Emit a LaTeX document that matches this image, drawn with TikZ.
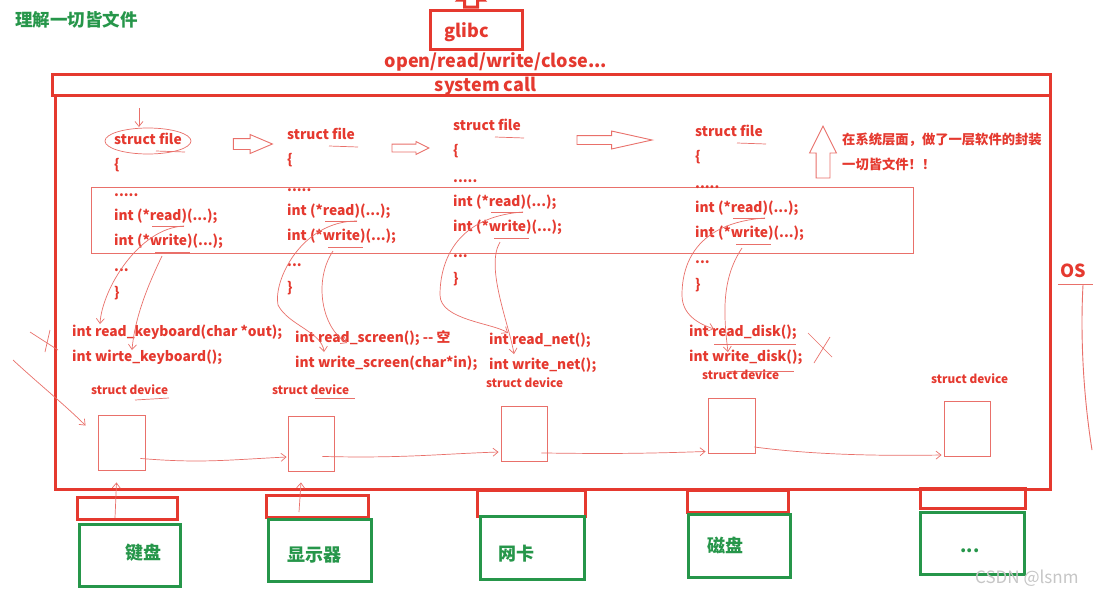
\documentclass[tikz,border=0pt]{standalone}
\usepackage{fontspec}
\setmainfont{Noto Sans CJK SC}
\usetikzlibrary{arrows.meta,shapes.arrows}

\definecolor{inkred}{RGB}{229,57,47}
\definecolor{penred}{RGB}{233,112,106}
\definecolor{inkgreen}{RGB}{38,150,74}

\tikzset{
  code/.style={anchor=west, inner sep=0pt, text height=9pt, text depth=3pt, text=inkred, font=\fontsize{13.8}{16}\selectfont\bfseries},
  small/.style={code, font=\fontsize{11.8}{14}\selectfont\bfseries},
  note/.style={code, font=\fontsize{13.3}{16}\selectfont\bfseries},
  big/.style={inner sep=0pt, text=inkred, font=\fontsize{18}{21}\selectfont\bfseries},
  port/.style={draw=inkred, line width=3pt, inner sep=0pt},
  hw/.style={draw=inkgreen, line width=3pt, inner sep=0pt},
  hwtxt/.style={inner sep=0pt, text=inkgreen, font=\fontsize{18}{21}\selectfont\bfseries},
  devbox/.style={draw=penred, line width=0.9pt, minimum width=46pt, minimum height=55pt, inner sep=0pt},
  pen/.style={draw=penred, line width=0.7pt},
  penarrow/.style={pen, -{Straight Barb[length=5pt, width=8pt]}},
  hollow/.style={single arrow, draw=penred, fill=white, line width=0.9pt, single arrow head indent=0pt}
}

\begin{document}
\begin{tikzpicture}[x=1pt, y=-1pt]
  \useasboundingbox (0,0) rectangle (1096,595);
  \fill[white] (0,0) rectangle (1096,595);

  % title
  \node[anchor=west, inner sep=0pt, text=inkgreen, font=\fontsize{17.5}{20}\selectfont\bfseries] (title) at (15,20) {理解一切皆文件};

  % glibc and system call
  \node[single arrow, draw=inkred, line width=3pt, inner sep=5pt, minimum height=19pt,
        single arrow head extend=6pt, shape border rotate=90] (up) at (471,0.5) {};
  \node[port, minimum width=92pt, minimum height=39pt] (glibc) at (476,29.5) {};
  \node[big] (glibctxt) at (466.5,32) {glibc};
  \node[big] (api) at (496,62) {open/read/write/close...};
  \draw[port] (52,74) rectangle (1050,95);
  \draw[port] (55,95) rectangle (1050,489);
  \node[big] (syscall) at (485.5,86) {system call};

  % OS
  \node[big, anchor=west] (os) at (1060,271) {OS};
  \draw[pen, line width=0.9pt] (1058,284) -- (1093,284);
  \draw[pen, line width=0.9pt] (1083,285) .. controls (1080,340) and (1084,400) .. (1092,450);

  % struct file columns
  \draw[pen, line width=0.9pt] (91,187) rectangle (913,253);
  \foreach \cx/\cy/\id in {114/141/A, 287/136/B, 453/127/C, 695/133/D}{
    \node[code] (file\id) at (\cx,\cy) {struct file};
    \node[code] (open\id) at (\cx,\cy+25) {\{};
    \node[code] (dots\id) at (\cx,\cy+52) {.....};
    \node[code] (read\id) at (\cx,\cy+76) {int (*read)(...);};
    \node[code] (write\id) at (\cx,\cy+101) {int (*write)(...);};
    \node[code] (more\id) at (\cx,\cy+127) {...};
    \node[code] (close\id) at (\cx,\cy+153) {\}};
    \draw[pen] ([shift={(42,10)}]file\id.west) -- ([shift={(71,11)}]file\id.west);
    \draw[pen] ([shift={(38,9)}]read\id.west) -- ([shift={(70,9)}]read\id.west);
    \draw[pen] ([shift={(41,10)}]write\id.west) -- ([shift={(76,10)}]write\id.west);
  }
  \draw[pen] (fileA.center) ellipse [x radius=43pt, y radius=13pt];
  \draw[penarrow] ([shift={(-9,-33)}]fileA.center) -- ([shift={(-9,-14)}]fileA.center);

  \node[hollow, inner sep=5pt, minimum height=39pt, single arrow head extend=4pt, single arrow tip angle=46] (nextA) at (246.5,144) {};
  \node[hollow, inner sep=3.5pt, minimum height=37pt, single arrow head extend=2.5pt, single arrow tip angle=53] (nextB) at (406.5,148) {};
  \node[hollow, inner sep=4pt, minimum height=75pt, single arrow head extend=4.5pt, single arrow tip angle=25] (nextC) at (604.5,140) {};
  \node[hollow, inner sep=6.5pt, minimum height=52pt, single arrow head extend=6.5pt, single arrow tip angle=53, shape border rotate=90] (wrap) at (823,159) {};
  \node[note] (note1) at (842,141) {在系统层面，做了一层软件的封装};
  \node[note] (note2) at (842,166) {一切皆文件！！};

  % driver functions
  \node[code] (krd) at (72,333) {int read\_keyboard(char *out);};
  \node[code] (kwr) at (72,358) {int wirte\_keyboard();};
  \node[code] (srd) at (295,339) {int read\_screen(); -{}- 空};
  \node[code] (swr) at (295,364) {int write\_screen(char*in);};
  \node[code] (nrd) at (489,341) {int read\_net();};
  \node[code] (nwr) at (489,366) {int write\_net();};
  \node[code] (drd) at (689,333) {int read\_disk();};
  \node[code] (dwr) at (689,358) {int write\_disk();};

  % hand drawn links
  \draw[penarrow] ([shift={(70,9)}]readA.west) .. controls +(-45,2) and +(2,-35) .. ([shift={(28,-9)}]krd.west);
  \draw[penarrow] ([shift={(48,14)}]writeA.west) .. controls +(-12,25) and +(3,-35) .. ([shift={(60,-8)}]kwr.west);
  \draw[penarrow] ([shift={(70,9)}]readB.west) .. controls +(-55,0) and +(-5,-25) .. ([shift={(-17,-34)}]srd.west)
                  .. controls +(10,20) and +(-2,-20) .. ([shift={(29,-12)}]swr.west);
  \draw[penarrow] ([shift={(46,14)}]writeB.west) .. controls +(-20,30) and +(-25,-15) .. ([shift={(52,4)}]srd.west);
  \draw[penarrow] ([shift={(70,9)}]readC.west) .. controls +(-70,5) and +(0,-30) .. ([shift={(-49,-46)}]nrd.west)
                  .. controls +(0,25) and +(-15,-10) .. ([shift={(19,-8)}]nrd.west);
  \draw[penarrow] ([shift={(47,14)}]writeC.west) .. controls +(-15,25) and +(-5,-30) .. ([shift={(25,-12)}]nwr.west);
  \draw[penarrow] ([shift={(70,9)}]readD.west) .. controls +(-70,5) and +(0,-30) .. ([shift={(-7,-38)}]drd.west)
                  .. controls +(0,20) and +(-15,-5) .. ([shift={(25,-4)}]drd.west);
  \draw[penarrow] ([shift={(47,14)}]writeD.west) .. controls +(-20,30) and +(-5,-40) .. ([shift={(39,-6)}]dwr.west);
  \draw[pen] ([shift={(25,11)}]drd.west) -- ([shift={(107,11)}]drd.west);
  \draw[pen] ([shift={(37,13)}]dwr.west) -- ([shift={(105,13)}]dwr.west);
  \draw[pen] (808,333) -- (832,357);
  \draw[pen] (830,337) -- (814,363);
  \draw[pen] (30,332) -- (58,350);
  \draw[pen] (50,330) -- (45,352);

  % struct device
  \node[small] (labA) at (91,391) {struct device};
  \node[small] (labB) at (272,391) {struct device};
  \node[small] (labC) at (486,384) {struct device};
  \node[small] (labD) at (702,376) {struct device};
  \node[small] (labE) at (931,380) {struct device};
  \draw[pen] ([shift={(44,9)}]labA.west) -- ([shift={(78,7)}]labA.west);
  \draw[pen] ([shift={(43,7)}]labB.west) -- ([shift={(83,7)}]labB.west);
  \node[devbox, minimum width=47pt] (devA) at (121.5,442.5) {};
  \node[devbox] (devB) at (311,443.5) {};
  \node[devbox] (devC) at (524,434) {};
  \node[devbox, minimum width=47pt] (devD) at (731.5,425.5) {};
  \node[devbox] (devE) at (967,428.5) {};
  \coordinate (stray) at (13,360);
  \draw[penarrow] (stray) .. controls (40,385) and (65,405) .. ([shift={(-12,-17)}]devA.west);
  \draw[penarrow] ([shift={(-5,-12)}]devA.south east) .. controls +(60,5) and +(-60,3) .. ([shift={(-1,13.5)}]devB.west);
  \draw[penarrow] ([shift={(-12,-15)}]devB.south east) .. controls +(80,2) and +(-60,2) .. ([shift={(-2,18)}]devC.west);
  \draw[penarrow] ([shift={(-6,-9)}]devC.south east) .. controls +(70,1) and +(-60,2) .. ([shift={(-2,26)}]devD.west);
  \draw[penarrow] ([shift={(-1,21.5)}]devD.east) .. controls +(60,8) and +(-60,1) .. ([shift={(-2,26.5)}]devE.west);

  % hardware
  \node[port, minimum width=100pt, minimum height=22pt] (portA) at (127,508) {};
  \node[port, minimum width=102pt, minimum height=22pt] (portB) at (317,506) {};
  \node[port, minimum width=108pt, minimum height=26pt] (portC) at (531,503) {};
  \node[port, minimum width=101pt, minimum height=22pt] (portD) at (737.5,501) {};
  \node[port, minimum width=105pt, minimum height=20pt] (portE) at (972.5,498) {};
  \node[hw, minimum width=101pt, minimum height=62pt] (kbd) at (129.5,555) {};
  \node[hw, minimum width=103pt, minimum height=62pt] (screen) at (319.5,550) {};
  \node[hw, minimum width=104pt, minimum height=63pt] (nic) at (532,547.5) {};
  \node[hw, minimum width=102pt, minimum height=63pt] (disk) at (739,545.5) {};
  \node[hw, minimum width=104pt, minimum height=62pt] (other) at (972,543) {};
  \node[hwtxt] (kbdtxt) at (143,553) {键盘};
  \node[hwtxt] (screentxt) at (314,555) {显示器};
  \node[hwtxt] (nictxt) at (516,554) {网卡};
  \node[hwtxt] (disktxt) at (725,545) {磁盘};
  \node[hwtxt] (othertxt) at (970,551) {...};
  \draw[penarrow] ([shift={(-12,10)}]portA.center) -- ([shift={(-5,12)}]devA.south);
  \draw[penarrow] ([shift={(-18,6)}]portB.center) -- ([shift={(-10,11)}]devB.south);

  \node[anchor=west, inner sep=0pt, text=gray!45, font=\fontsize{17}{19}\selectfont] (mark) at (975,578) {CSDN @lsnm};
\end{tikzpicture}
\end{document}
